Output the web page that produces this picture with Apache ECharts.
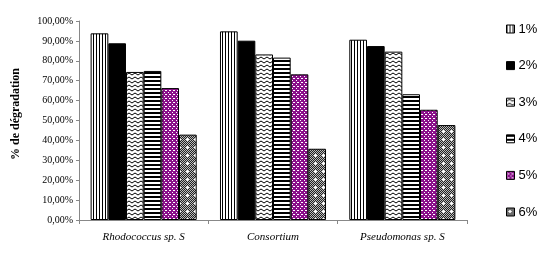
<!DOCTYPE html>
<html>
<head>
<meta charset="utf-8">
<script src="https://cdn.jsdelivr.net/npm/echarts@6/dist/echarts.min.js"></script>
<style>
  html, body { margin: 0; padding: 0; background: #fff; }
  #chart { width: 544px; height: 259px; }
</style>
</head>
<body>
<div id="chart"></div>
<script>
  const categories = ['Rhodococcus sp. S', 'Consortium', 'Pseudomonas sp. S'];
  const seriesNames = ['1%', '2%', '3%', '4%', '5%', '6%'];
  const s1 = [93.8, 94.8, 90.6];
  const s2 = [88.8, 90.1, 87.4];
  const s3 = [74.4, 83.2, 84.6];
  const s4 = [74.9, 81.6, 63.2];
  const s5 = [66.3, 73.2, 55.4];
  const s6 = [42.9, 35.8, 47.7];
  const yTicks = [0, 10, 20, 30, 40, 50, 60, 70, 80, 90, 100];
  const yTitle = '% de dégradation';

  // petits motifs de remplissage
  const makeCanvas = (w, h, draw) => {
    const canvas = document.createElement('canvas');
    canvas.width = w;
    canvas.height = h;
    const ctx = canvas.getContext('2d');
    draw(ctx);
    return canvas;
  };

  const patVertical = makeCanvas(3, 2, (ctx) => {
    ctx.fillStyle = '#fff';
    ctx.fillRect(0, 0, 3, 2);
    ctx.fillStyle = '#000';
    ctx.fillRect(0, 0, 1, 2);
  });
  const patZigzag = makeCanvas(6, 4, (ctx) => {
    ctx.fillStyle = '#fff';
    ctx.fillRect(0, 0, 6, 4);
    ctx.strokeStyle = '#000';
    ctx.lineWidth = 1;
    ctx.beginPath();
    ctx.moveTo(0, 3);
    ctx.lineTo(3, 1);
    ctx.lineTo(6, 3);
    ctx.stroke();
  });
  const patHorizontal = makeCanvas(2, 4, (ctx) => {
    ctx.fillStyle = '#fff';
    ctx.fillRect(0, 0, 2, 4);
    ctx.fillStyle = '#000';
    ctx.fillRect(0, 0, 2, 2);
  });
  const patPurple = makeCanvas(4, 4, (ctx) => {
    ctx.fillStyle = '#8a0f8a';
    ctx.fillRect(0, 0, 4, 4);
    ctx.fillStyle = '#fff';
    ctx.fillRect(0, 0, 1, 1);
    ctx.fillRect(2, 2, 1, 1);
    ctx.fillRect(1, 2, 1, 1);
  });
  const patCheck = makeCanvas(8, 8, (ctx) => {
    ctx.fillStyle = '#222';
    ctx.fillRect(0, 0, 8, 8);
    ctx.fillStyle = '#bbb';
    for (let y = 0; y < 8; y++) {
      for (let x = 0; x < 8; x++) {
        if ((x + y) % 2 === 0) ctx.fillRect(x, y, 1, 1);
      }
    }
    ctx.fillStyle = '#fff';
    ctx.fillRect(3, 2, 1, 3);
    ctx.fillRect(2, 3, 3, 1);
  });

  const fills = [
    { type: 'pattern', image: patVertical, repeat: 'repeat' },
    '#000',
    { type: 'pattern', image: patZigzag, repeat: 'repeat' },
    { type: 'pattern', image: patHorizontal, repeat: 'repeat' },
    { type: 'pattern', image: patPurple, repeat: 'repeat' },
    { type: 'pattern', image: patCheck, repeat: 'repeat' },
  ];
  const allData = [s1, s2, s3, s4, s5, s6];

  const chart = echarts.init(document.getElementById('chart'));
  chart.setOption({
    animation: false,
    grid: { left: 79, right: 77, top: 21, bottom: 39 },
    graphic: [
      {
        type: 'text',
        x: 16,
        y: 114,
        rotation: Math.PI / 2,
        style: {
          text: yTitle,
          font: 'bold 12px "Liberation Serif"',
          fill: '#000',
          align: 'center',
          verticalAlign: 'middle',
        },
      },
    ],
    legend: {
      orient: 'vertical',
      left: 501,
      top: 17,
      icon: 'rect',
      itemWidth: 8,
      itemHeight: 8,
      itemGap: 22.6,
      itemStyle: { borderColor: '#000', borderWidth: 1 },
      textStyle: {
        fontFamily: 'Liberation Sans',
        fontSize: 13,
        lineHeight: 14,
        color: '#000',
        padding: [0, 0, 0, -1],
      },
      data: seriesNames,
    },
    xAxis: {
      type: 'category',
      data: categories,
      axisLine: { lineStyle: { color: '#888' } },
      axisTick: { show: true, alignWithLabel: false, length: 4, lineStyle: { color: '#888' } },
      axisLabel: {
        fontFamily: 'Liberation Serif',
        fontStyle: 'italic',
        fontSize: 11,
        color: '#000',
        margin: 12,
      },
    },
    yAxis: {
      type: 'value',
      min: yTicks[0],
      max: yTicks[yTicks.length - 1],
      interval: 10,
      axisLine: { show: true, lineStyle: { color: '#888' } },
      axisTick: { show: true, length: 3, lineStyle: { color: '#888' } },
      splitLine: { show: false },
      axisLabel: {
        fontFamily: 'Liberation Serif',
        fontSize: 10,
        color: '#000',
        margin: 6,
        formatter: (v) => v.toFixed(2).replace('.', ',') + '%',
      },
    },
    series: seriesNames.map((name, i) => ({
      name: name,
      type: 'bar',
      data: allData[i],
      barCategoryGap: '18%',
      barGap: '0%',
      itemStyle: { color: fills[i], borderColor: '#000', borderWidth: 1 },
    })),
  });
</script>
</body>
</html>
